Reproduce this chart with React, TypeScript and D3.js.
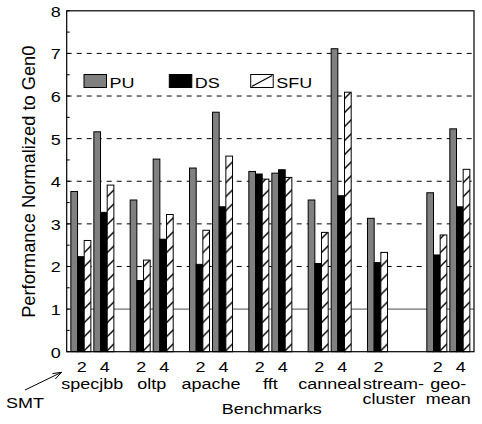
import React from "react";
import * as d3 from "d3";

const benchmarks = ["specjbb", "oltp", "apache", "fft", "canneal", "streamcluster", "geomean"];
const benchLabels: string[][] = [["specjbb"], ["oltp"], ["apache"], ["fft"], ["canneal"], ["stream-", "cluster"], ["geo-", "mean"]];
const smtLevels = ["2", "4"];
const series = ["PU", "DS", "SFU"];
const yTicks = [0, 1, 2, 3, 4, 5, 6, 7, 8];

// values per benchmark: [smt2, smt4], null = missing
const PU: (number | null)[][] = [
  [3.76, 5.16], [3.56, 4.52], [4.31, 5.62], [4.23, 4.19], [3.56, 7.11], [3.13, null], [3.73, 5.23],
];
const DS: (number | null)[][] = [
  [2.23, 3.27], [1.67, 2.64], [2.05, 3.40], [4.17, 4.27], [2.07, 3.66], [2.09, null], [2.27, 3.40],
];
const SFU: (number | null)[][] = [
  [2.61, 3.91], [2.15, 3.22], [2.85, 4.59], [4.05, 4.09], [2.80, 6.09], [2.33, null], [2.74, 4.28],
];

const W = 482, H = 424;
const L = 66.7, R = 474, T = 10.8, B = 351.7;
const FONT = "'Liberation Sans', Arial, sans-serif";
const FS = 18;
const SY = 0.85;

function Txt({ x, y, anchor = "start", children }: { x: number; y: number; anchor?: string; children: React.ReactNode }) {
  return (
    <text transform={`translate(${x},${y}) scale(1,${SY})`} textAnchor={anchor} fontSize={FS}>{children}</text>
  );
}

export default function App() {
  const y = d3.scaleLinear().domain([0, 8]).range([B, T]);
  const x0 = d3.scaleBand<string>().domain(benchmarks).range([L, R]).paddingInner(0.275).paddingOuter(0.07);
  const x1 = d3.scaleBand<string>().domain(smtLevels).range([0, x0.bandwidth()]).paddingInner(0.13);
  const x2 = d3.scaleBand<string>().domain(series).range([0, x1.bandwidth()]);
  const data: Record<string, (number | null)[][]> = { PU, DS, SFU };
  const fills: Record<string, string> = { PU: "#808080", DS: "#000000", SFU: "url(#hatch)" };

  const minor = d3.range(0, 8.01, 0.5);

  return (
    <svg width={W} height={H} style={{ position: "absolute", left: 0, top: 0, background: "#fff" }} fontFamily={FONT}>
      <defs>
        <pattern id="hatch" patternUnits="userSpaceOnUse" width={14} height={14}>
          <rect width={14} height={14} fill="#fff" />
          <path d="M-1,15 L15,-1 M-8,8 L8,-8 M6,22 L22,6" stroke="#000" strokeWidth={1.4} />
        </pattern>
      </defs>
      {/* gridlines */}
      {yTicks.filter((t) => t >= 2 && t <= 7).map((t) => (
        <line key={"g" + t} x1={L} x2={R} y1={y(t)} y2={y(t)} stroke="#000" strokeWidth={1} strokeDasharray="5,5" />
      ))}
      <line x1={L} x2={R} y1={y(1)} y2={y(1)} stroke="#707070" strokeWidth={1.3} />
      {/* bars */}
      {benchmarks.map((b, bi) => (
        <g key={b} transform={`translate(${x0(b)},0)`}>
          {smtLevels.map((s, si) => (
            <g key={s} transform={`translate(${x1(s)},0)`}>
              {series.map((se) => {
                const v = data[se][bi][si];
                if (v == null) return null;
                return (
                  <rect key={se} x={x2(se)!} y={y(v)} width={x2.bandwidth()} height={B - y(v)}
                    fill={fills[se]} stroke="#000" strokeWidth={1} />
                );
              })}
            </g>
          ))}
        </g>
      ))}
      {/* frame */}
      <rect x={L} y={T} width={R - L} height={B - T} fill="none" stroke="#000" strokeWidth={1.2} />
      {/* minor ticks */}
      {minor.map((t) => (
        <line key={"m" + t} x1={L} x2={L + 3} y1={y(t)} y2={y(t)} stroke="#000" strokeWidth={1} />
      ))}
      {/* y tick labels */}
      {yTicks.map((t) => (
        <Txt key={"yt" + t} x={L - 6} y={y(t) + 6} anchor="end">{t}</Txt>
      ))}
      {/* x labels */}
      {benchmarks.map((b, bi) => (
        <g key={"xl" + b}>
          {smtLevels.map((s, si) => (data.PU[bi][si] == null ? null : (
            <Txt key={s} x={x0(b)! + x1(s)! + x1.bandwidth() / 2 + 1} y={372} anchor="middle">{s}</Txt>
          )))}
          {benchLabels[bi].map((ln, li) => (
            <Txt key={li} x={x0(b)! + x0.bandwidth() / 2 + (ln === "stream-" ? 4.5 : 0)} y={388.8 + li * 15.5} anchor="middle">{ln}</Txt>
          ))}
        </g>
      ))}
      <Txt x={271.7} y={414.3} anchor="middle">Benchmarks</Txt>
      <text transform={`translate(35,181.7) rotate(-90)`} textAnchor="middle" fontSize={18.3}>Performance Normalized to Gen0</text>
      {/* SMT annotation */}
      <Txt x={6} y={408.3}>SMT</Txt>
      <line x1={25} y1={390} x2={61.5} y2={372.3} stroke="#000" strokeWidth={1} />
      <path d="M61.5,372.3 L52.5,373.6 M61.5,372.3 L55.3,379" stroke="#000" strokeWidth={1} fill="none" />
      {/* legend */}
      {series.map((se, i) => {
        const lx = [84, 169.3, 250.7][i];
        return (
          <g key={"lg" + se}>
            <rect x={lx} y={74.5} width={22.5} height={13} fill={se === "SFU" ? "#fff" : fills[se]} stroke="#000" strokeWidth={1} />
            {se === "SFU" && <line x1={lx + 1} y1={74.5 + 12} x2={lx + 21.5} y2={75.5} stroke="#000" strokeWidth={1.2} />}
            <Txt x={lx + 25.5} y={87.5}>{se}</Txt>
          </g>
        );
      })}
    </svg>
  );
}
